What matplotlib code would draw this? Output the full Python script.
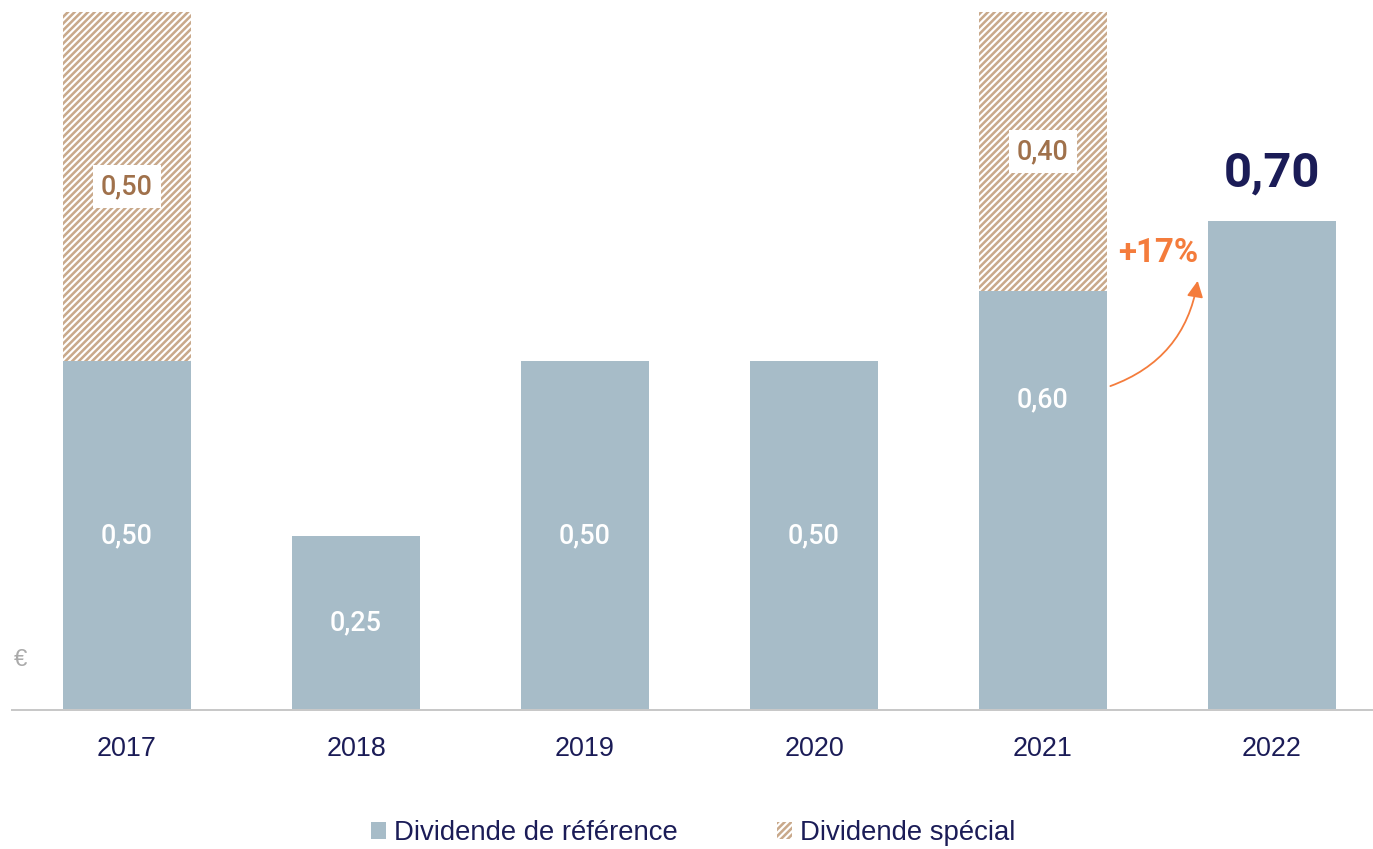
import matplotlib
matplotlib.use('Agg')
import matplotlib.pyplot as plt
from matplotlib.patches import Patch, FancyArrowPatch

# données
years = ['2017', '2018', '2019', '2020', '2021', '2022']
reference = [0.50, 0.25, 0.50, 0.50, 0.60, 0.70]
special = [0.50, 0.0, 0.0, 0.0, 0.40, 0.0]
growth_label = '+17%'

# couleurs
c_ref = '#A7BCC8'
c_hatch = '#C9A98B'
c_brown = '#A0714B'
c_navy = '#1B1C57'
c_orange = '#F47C3C'
c_axis = '#C8C8C8'

DPI = 80
W, H = 1373, 849


def px(v):
    # taille en pixels -> points
    return v * 72 / DPI


def fmt(v):
    return f'{v:.2f}'.replace('.', ',')


plt.rcParams['hatch.linewidth'] = 2.3
plt.rcParams['font.family'] = ['Liberation Sans', 'DejaVu Sans']

fig = plt.figure(figsize=(W / DPI, H / DPI), dpi=DPI)
ax = fig.add_axes([12 / W, 139 / H, 1361 / W, 710 / H])

x = list(range(len(years)))
width = 128 / 229

ax.bar(x, reference, width=width, color=c_ref, linewidth=0, zorder=2)
ax.bar(x, special, width=width, bottom=reference, color='white',
       edgecolor=c_hatch, hatch='////', linewidth=0, zorder=2)

ax.set_xlim(-115 / 229, -115 / 229 + 1361 / 229)
ax.set_ylim(0, 710 / 698)

lab_font = dict(family=['Roboto', 'DejaVu Sans'], fontweight='medium')

# étiquettes des dividendes de référence
for i, (r, s) in enumerate(zip(reference, special)):
    if i == len(years) - 1:
        continue
    ypos = r / 2
    if i == 4:
        ypos = r * 0.74
    ax.text(i, ypos, fmt(r), ha='center', va='center', color='white',
            fontsize=px(27), zorder=3, **lab_font)
    if s > 0:
        ax.text(i, r + s / 2, fmt(s), ha='center', va='center', color=c_brown,
                fontsize=px(27), zorder=3,
                bbox=dict(boxstyle='square,pad=0.3', fc='white', ec='none'),
                **lab_font)

# dernier dividende, en grand
last = len(years) - 1
ax.annotate(fmt(reference[last]), (last, reference[last]),
            xytext=(0, px(48)), textcoords='offset points',
            ha='center', va='center', color=c_navy, fontsize=px(49),
            fontweight='bold', family=['Roboto', 'DejaVu Sans'])

# flèche de croissance
arrow = FancyArrowPatch((4.285, 0.463), (4.677, 0.618),
                        connectionstyle='arc3,rad=0.3',
                        arrowstyle='-|>', mutation_scale=px(34),
                        color=c_orange, lw=px(1.8), zorder=4)
ax.add_patch(arrow)
ax.text(4.502, 0.655, growth_label, ha='center', va='center',
        color=c_orange, fontsize=px(33), fontweight='bold',
        family=['Roboto', 'DejaVu Sans'])

# euro
ax.text(9 / 229 - 115 / 229, (710 - 660) / 698, '€', ha='center', va='center',
        color='#AAAAAA', fontsize=px(24))

# axes
for side in ['left', 'right', 'top']:
    ax.spines[side].set_visible(False)
ax.spines['bottom'].set_color(c_axis)
ax.spines['bottom'].set_linewidth(px(2))
ax.set_yticks([])
ax.set_xticks(x)
ax.set_xticklabels(years, color=c_navy, fontsize=px(27))
ax.tick_params(axis='x', length=0, pad=px(26))

# légende
handles = [Patch(facecolor=c_ref, edgecolor='none', label='Dividende de référence'),
           Patch(facecolor='white', edgecolor=c_hatch, hatch='////', lw=0,
                 label='Dividende spécial')]
leg = fig.legend(handles=handles, loc='center', ncol=2,
                 bbox_to_anchor=(693 / W, 1 - 833 / H), frameon=False,
                 fontsize=px(27.5), handlelength=0.55, handleheight=0.55,
                 handletextpad=0.3, columnspacing=3.6)
for t in leg.get_texts():
    t.set_color(c_navy)

fig.savefig('out.png', dpi=DPI)
